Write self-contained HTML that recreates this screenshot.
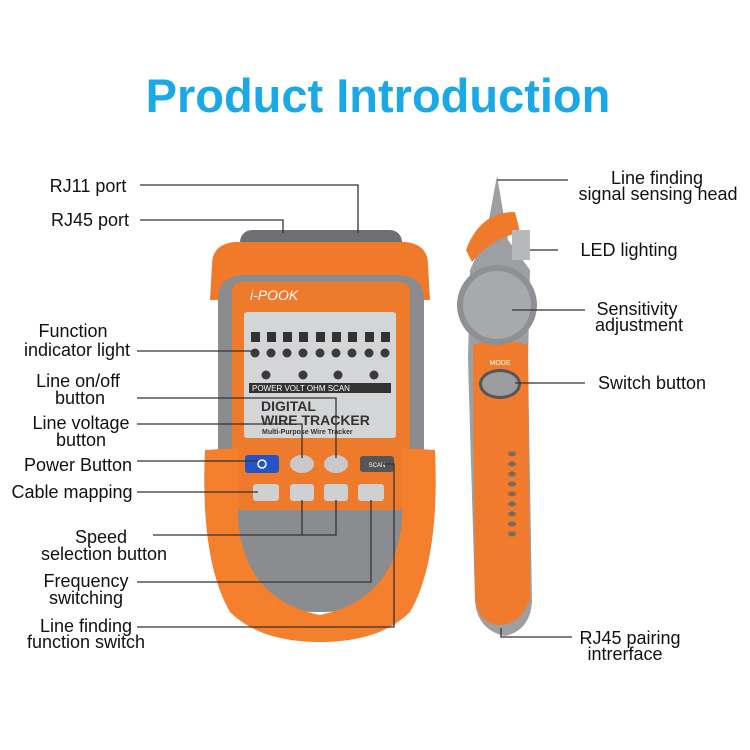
<!DOCTYPE html>
<html><head><meta charset="utf-8"><style>
html,body{margin:0;padding:0;background:#fff;}
svg{display:block}
.t{font-family:"Liberation Sans","DejaVu Sans",sans-serif;font-size:18px;fill:#111;text-anchor:middle}
.l{stroke:#333;stroke-width:1.3;fill:none}
</style></head><body>
<svg width="750" height="750" viewBox="0 0 750 750" xmlns="http://www.w3.org/2000/svg">
<rect width="750" height="750" fill="#fff"/>
<text x="378" y="112" font-family="Liberation Sans, sans-serif" font-weight="bold" font-size="47" fill="#1aa8e6" text-anchor="middle">Product Introduction</text>

<!-- main device -->
<rect x="240" y="230" width="162" height="26" rx="12" fill="#6d6f73"/>
<path d="M212 265 Q212 244 235 242 L405 242 Q428 244 428 265 L430 300 L210 300 Z" fill="#f07a2a"/>
<path d="M218 300 Q218 275 246 275 L396 275 Q424 275 424 300 L424 560 Q410 612 320 612 Q230 612 218 560 Z" fill="#8a8c90"/>
<path d="M232 292 Q232 282 244 282 L398 282 Q410 282 410 292 L410 500 Q410 510 398 510 L244 510 Q232 510 232 500 Z" fill="#ee7a2c"/>
<path d="M205 450 L238 448 L238 520 Q245 600 320 615 Q395 600 402 520 L402 448 L435 450 Q440 560 410 612 Q380 642 320 642 Q260 642 230 612 Q200 560 205 450 Z" fill="#f47f2c"/>
<text x="250" y="300" font-family="Liberation Sans, sans-serif" font-style="italic" font-size="14" fill="#fff">i-POOK</text>
<rect x="244" y="312" width="152" height="126" rx="3" fill="#d4d5d7"/>
<g fill="#333">
<rect x="251" y="332" width="9" height="10"/><rect x="267" y="332" width="9" height="10"/><rect x="283" y="332" width="9" height="10"/><rect x="299" y="332" width="9" height="10"/><rect x="316" y="332" width="9" height="10"/><rect x="332" y="332" width="9" height="10"/><rect x="348" y="332" width="9" height="10"/><rect x="365" y="332" width="9" height="10"/><rect x="381" y="332" width="9" height="10"/>
</g>
<g fill="#3a3a3c">
<circle cx="255" cy="353" r="4.5"/><circle cx="271" cy="353" r="4.5"/><circle cx="287" cy="353" r="4.5"/><circle cx="303" cy="353" r="4.5"/><circle cx="320" cy="353" r="4.5"/><circle cx="336" cy="353" r="4.5"/><circle cx="352" cy="353" r="4.5"/><circle cx="369" cy="353" r="4.5"/><circle cx="385" cy="353" r="4.5"/>
<circle cx="266" cy="375" r="4.5"/><circle cx="303" cy="375" r="4.5"/><circle cx="338" cy="375" r="4.5"/><circle cx="374" cy="375" r="4.5"/>
</g>
<rect x="249" y="383" width="142" height="10" fill="#333"/>
<text x="252" y="391" font-family="Liberation Sans, sans-serif" font-size="8" fill="#fff">POWER    VOLT      OHM      SCAN</text>
<text x="261" y="411" font-family="Liberation Sans, sans-serif" font-weight="bold" font-size="14" fill="#333">DIGITAL</text>
<text x="261" y="425" font-family="Liberation Sans, sans-serif" font-weight="bold" font-size="14" fill="#333">WIRE TRACKER</text>
<text x="262" y="434" font-family="Liberation Sans, sans-serif" font-weight="bold" font-size="7" fill="#333">Multi-Purpose Wire Tracker</text>
<rect x="245" y="455" width="34" height="18" rx="3" fill="#2454c8"/>
<circle cx="262" cy="464" r="4" fill="none" stroke="#fff" stroke-width="1.5"/>
<ellipse cx="302" cy="464" rx="12" ry="9" fill="#c9c9cb"/>
<ellipse cx="336" cy="464" rx="12" ry="9" fill="#c9c9cb"/>
<rect x="360" y="456" width="34" height="16" rx="3" fill="#555"/>
<text x="377" y="467" font-family="Liberation Sans, sans-serif" font-size="6" fill="#fff" text-anchor="middle">SCAN</text>
<rect x="253" y="484" width="26" height="17" rx="3" fill="#cfd0d2"/>
<rect x="290" y="484" width="24" height="17" rx="3" fill="#cfd0d2"/>
<rect x="324" y="484" width="24" height="17" rx="3" fill="#cfd0d2"/>
<rect x="358" y="484" width="26" height="17" rx="3" fill="#cfd0d2"/>

<!-- receiver -->
<path d="M497 176 L508 240 L530 270 L528 360 L532 600 Q531 630 505 636 Q477 630 475 600 L468 360 L470 270 L486 235 Z" fill="#9d9fa3"/>
<path d="M466 250 Q480 212 515 212 L520 232 Q490 240 472 262 Z" fill="#ef7a2b"/>
<rect x="512" y="230" width="18" height="30" fill="#b7b8ba"/>
<path d="M473 345 Q500 336 528 345 L530 600 Q520 625 500 625 Q480 625 475 600 Z" fill="#f07b2c"/>
<circle cx="497" cy="305" r="40" fill="#8e9094"/>
<circle cx="497" cy="305" r="34" fill="#a7a9ac"/>
<text x="500" y="365" font-family="Liberation Sans, sans-serif" font-size="7" fill="#fff" text-anchor="middle">MODE</text>
<ellipse cx="500" cy="384" rx="21" ry="15" fill="#555"/>
<ellipse cx="500" cy="384" rx="18" ry="12" fill="#9b9ca0"/>
<g fill="#7a6a60">
<ellipse cx="512" cy="454" rx="4" ry="2.5"/><ellipse cx="512" cy="464" rx="4" ry="2.5"/><ellipse cx="512" cy="474" rx="4" ry="2.5"/><ellipse cx="512" cy="484" rx="4" ry="2.5"/><ellipse cx="512" cy="494" rx="4" ry="2.5"/><ellipse cx="512" cy="504" rx="4" ry="2.5"/><ellipse cx="512" cy="514" rx="4" ry="2.5"/><ellipse cx="512" cy="524" rx="4" ry="2.5"/><ellipse cx="512" cy="534" rx="4" ry="2.5"/>
</g>

<!-- leader lines -->
<path class="l" d="M140 185 H358 V233"/>
<path class="l" d="M140 220 H283 V233"/>
<path class="l" d="M137 351 H255"/>
<path class="l" d="M137 398 H336 V458"/>
<path class="l" d="M137 424 H302 V458"/>
<path class="l" d="M137 461 H258"/>
<path class="l" d="M137 492 H258"/>
<path class="l" d="M153 535 H336 V500 M302 535 V500"/>
<path class="l" d="M137 582 H371 V500"/>
<path class="l" d="M137 627 H394 V464 H382"/>
<path class="l" d="M497 180 H568"/>
<path class="l" d="M530 250 H558"/>
<path class="l" d="M512 310 H585"/>
<path class="l" d="M515 383 H585"/>
<path class="l" d="M501 628 V637 H572"/>

<!-- labels -->
<text class="t" x="88" y="192">RJ11 port</text>
<text class="t" x="90" y="226">RJ45 port</text>
<text class="t" x="73" y="337">Function</text>
<text class="t" x="77" y="356">indicator light</text>
<text class="t" x="78" y="387">Line on/off</text>
<text class="t" x="80" y="404">button</text>
<text class="t" x="81" y="429">Line voltage</text>
<text class="t" x="81" y="446">button</text>
<text class="t" x="78" y="471">Power Button</text>
<text class="t" x="72" y="498">Cable mapping</text>
<text class="t" x="101" y="543">Speed</text>
<text class="t" x="104" y="560">selection button</text>
<text class="t" x="86" y="587">Frequency</text>
<text class="t" x="86" y="604">switching</text>
<text class="t" x="86" y="632">Line finding</text>
<text class="t" x="86" y="648">function switch</text>
<text class="t" x="657" y="184">Line finding</text>
<text class="t" x="658" y="200">signal sensing head</text>
<text class="t" x="629" y="256">LED lighting</text>
<text class="t" x="637" y="315">Sensitivity</text>
<text class="t" x="639" y="331">adjustment</text>
<text class="t" x="652" y="389">Switch button</text>
<text class="t" x="630" y="644">RJ45 pairing</text>
<text class="t" x="625" y="660">intrerface</text>
</svg>
</body></html>
